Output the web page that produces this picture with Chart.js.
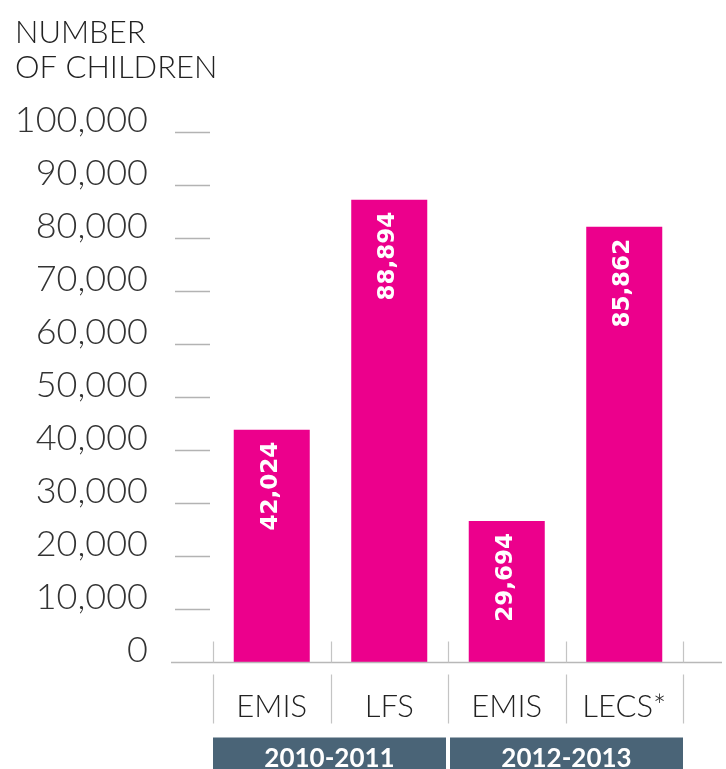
<!DOCTYPE html>
<html><head><meta charset="utf-8">
<script src="https://cdn.jsdelivr.net/npm/chart.js@4"></script>
<style>html,body{margin:0;padding:0;background:#fff;}#wrap{width:726px;height:769px;position:relative}</style>
</head><body><div id="wrap"><canvas id="c" width="726" height="769"></canvas></div>
<script>
const titleLines = ["NUMBER", "OF CHILDREN"];
const categories = ["EMIS", "LFS", "EMIS", "LECS*"];
const groups = ["2010-2011", "2012-2013"];
const groupStart = [0, 2];
const groupEnd = [1, 3];
const barHeights = [43800, 87200, 26600, 82100];
const valueLabels = ["42,024", "88,894", "29,694", "85,862"];
const yMin = 0, yMax = 100000, yStep = 10000;

const FONT = "Lato, 'Open Sans', sans-serif";
const PINK = "#ec008c";
const SLATE = "#4a6477";

const decor = {
  id: "decor",
  beforeDatasetsDraw(chart) {
    const ctx = chart.ctx, y = chart.scales.y;
    ctx.save();
    ctx.fillStyle = "#222";
    ctx.font = "300 31px " + FONT;
    ctx.textAlign = "left"; ctx.textBaseline = "alphabetic";
    ctx.fillText(titleLines[0], 15, 43);
    ctx.fillText(titleLines[1], 15, 78);
    ctx.strokeStyle = "#b3b3b3"; ctx.lineWidth = 1.5;
    y.ticks.forEach(t => {
      if (t.value === 0) return;
      const py = Math.round(y.getPixelForValue(t.value)) + 0.5;
      ctx.beginPath(); ctx.moveTo(175, py); ctx.lineTo(210, py); ctx.stroke();
    });
    ctx.restore();
  },
  afterDatasetsDraw(chart) {
    const ctx = chart.ctx, x = chart.scales.x, y = chart.scales.y, a = chart.chartArea;
    const y0 = Math.round(y.getPixelForValue(0)) + 0.5;
    const catW = (a.right - a.left) / categories.length;
    const bounds = [];
    for (let i = 0; i <= categories.length; i++) bounds.push(a.left + i * catW);
    ctx.save();
    ctx.strokeStyle = "#b8b8b8"; ctx.lineWidth = 1.5;
    ctx.beginPath(); ctx.moveTo(171, y0); ctx.lineTo(722, y0); ctx.stroke();
    ctx.strokeStyle = "#c4c4c4"; ctx.lineWidth = 1.2;
    bounds.forEach(b => {
      const bx = Math.round(b) + 0.5;
      ctx.beginPath(); ctx.moveTo(bx, y0 - 21); ctx.lineTo(bx, y0); ctx.stroke();
      ctx.beginPath(); ctx.moveTo(bx, y0 + 12); ctx.lineTo(bx, y0 + 61); ctx.stroke();
    });
    ctx.fillStyle = "#222"; ctx.font = "300 31px " + FONT;
    ctx.textAlign = "center"; ctx.textBaseline = "middle";
    categories.forEach((c, i) => ctx.fillText(c, x.getPixelForValue(i), y0 + 44));
    groups.forEach((g, gi) => {
      const l = bounds[groupStart[gi]] + (gi > 0 ? 2 : 0);
      const r = bounds[groupEnd[gi] + 1] - (gi < groups.length - 1 ? 2 : 0);
      ctx.fillStyle = SLATE;
      ctx.fillRect(l, y0 + 75, r - l, 40);
      ctx.fillStyle = "#fff"; ctx.font = "700 26px " + FONT;
      ctx.fillText(g, (l + r) / 2, y0 + 96);
    });
    const meta = chart.getDatasetMeta(0);
    ctx.font = "bold 23px 'DejaVu Sans', sans-serif";
    ctx.fillStyle = "#fff"; ctx.textAlign = "right"; ctx.textBaseline = "middle";
    meta.data.forEach((bar, i) => {
      ctx.save();
      ctx.translate(bar.x - 1, bar.y + 12);
      ctx.rotate(-Math.PI / 2);
      ctx.fillText(valueLabels[i], 0, 0);
      ctx.restore();
    });
    ctx.restore();
  }
};

new Chart(document.getElementById("c"), {
  type: "bar",
  data: {
    labels: categories,
    datasets: [{ data: barHeights, backgroundColor: PINK, borderWidth: 0,
      categoryPercentage: 1, barPercentage: 0.647 }]
  },
  options: {
    responsive: false, animation: false, devicePixelRatio: 1,
    layout: { padding: { left: 0, top: 132, right: 43, bottom: 107 } },
    plugins: { legend: { display: false }, tooltip: { enabled: false }, title: { display: false } },
    scales: {
      x: { display: false },
      y: {
        min: yMin, max: yMax,
        afterFit: s => { s.width = 213; },
        grid: { display: false, drawTicks: false },
        border: { display: false },
        ticks: {
          stepSize: yStep, padding: 65, labelOffset: -12,
          color: "#333", font: { family: FONT, size: 36, weight: "300" },
          callback: v => v.toLocaleString("en-US")
        }
      }
    }
  },
  plugins: [decor]
});
</script></body></html>
